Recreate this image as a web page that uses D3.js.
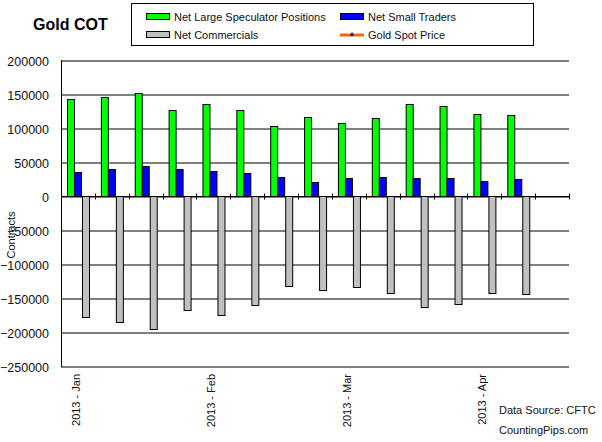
<!DOCTYPE html>
<html>
<head>
<meta charset="utf-8">
<script src="https://cdn.jsdelivr.net/npm/d3@7/dist/d3.min.js"></script>
<style>
  body { margin: 0; background: #fff; }
  svg { display: block; font-family: Arial, "Liberation Sans", sans-serif; }
  .axis text { fill: #111; font-size: 12.5px; }
</style>
</head>
<body>
<div id="chart"></div>
<script>
// weekly COT report dates (last slot empty)
var weeks = ["01-08", "01-15", "01-22", "01-29", "02-05", "02-12", "02-19",
             "02-26", "03-05", "03-12", "03-19", "03-26", "04-02", "04-09", "04-16"];
var weekLabels = ["2013 - Jan", "", "", "", "2013 - Feb", "", "", "",
                  "2013 - Mar", "", "", "", "2013 - Apr", "", ""];

var largeSpec  = [142000, 145000, 151000, 126000, 136000, 126000, 102500,
                  115500, 107000, 114000, 135000, 132000, 120000, 118500, null];
var smallTrade = [34800, 39700, 43600, 39700, 36300, 33300, 27900,
                  20100, 26000, 27500, 26000, 26000, 21600, 24500, null];
var commercials = [-178400, -185800, -196100, -168100, -175400, -160700, -132800,
                   -138700, -134300, -143100, -163700, -159300, -143100, -144600, null];

var yTicks = [200000, 150000, 100000, 50000, 0, -50000, -100000, -150000, -200000, -250000];

var seriesNames = ["Net Large Speculator Positions", "Net Small Traders", "Net Commercials"];
var seriesColors = ["#00ff00", "#0000ff", "#c0c0c0"];

var W = 602, H = 442;
var plot = {left: 61, right: 569, top: 60, bottom: 366};

var svg = d3.select("#chart").append("svg")
    .attr("width", W)
    .attr("height", H);

var x = d3.scaleBand()
    .domain(weeks)
    .range([plot.left, plot.right]);

var x1 = d3.scaleBand()
    .domain(seriesNames)
    .range([0, x.bandwidth()])
    .paddingOuter(0.8);

var y = d3.scaleLinear()
    .domain([-250000, 200000])
    .range([plot.bottom, plot.top]);

// gridlines + y labels
var axisY = d3.axisLeft(y)
    .tickValues(yTicks)
    .tickSize(-(plot.right - plot.left))
    .tickPadding(12)
    .tickFormat(d3.format("d"));

svg.append("g")
    .attr("class", "axis axis--y")
    .attr("transform", "translate(" + plot.left + ",0.5)")
    .call(axisY)
    .call(function(g) { g.select(".domain").remove(); })
    .call(function(g) { g.selectAll(".tick line").attr("stroke", "#000"); })
    .call(function(g) { g.selectAll(".tick text").attr("dy", "0.4em"); });

// left axis line
svg.append("line")
    .attr("x1", plot.left + 0.5).attr("x2", plot.left + 0.5)
    .attr("y1", plot.top).attr("y2", plot.bottom + 1)
    .attr("stroke", "#000");

// bars
var rows = weeks.map(function(w, i) {
    return {week: w, vals: [largeSpec[i], smallTrade[i], commercials[i]]};
});

var grp = svg.append("g").selectAll("g")
    .data(rows)
    .enter().append("g")
    .attr("transform", function(d) { return "translate(" + x(d.week) + ",0)"; });

grp.selectAll("rect")
    .data(function(d) {
        return d.vals.map(function(v, j) { return {name: seriesNames[j], v: v, c: seriesColors[j]}; })
                     .filter(function(o) { return o.v != null; });
    })
    .enter().append("rect")
    .attr("x", function(d) { return Math.round(x1(d.name)) + 0.5; })
    .attr("width", function(d) { return Math.round(x1.bandwidth()); })
    .attr("y", function(d) { return Math.round(d.v > 0 ? y(d.v) : y(0)) + 0.5; })
    .attr("height", function(d) { return Math.round(Math.abs(y(d.v) - y(0))); })
    .attr("fill", function(d) { return d.c; })
    .attr("stroke", "#000")
    .attr("stroke-width", 1);

// zero line with category ticks
var zeroY = Math.round(y(0)) + 0.5;
svg.append("line")
    .attr("x1", plot.left).attr("x2", plot.right)
    .attr("y1", zeroY).attr("y2", zeroY)
    .attr("stroke", "#000");

var edges = weeks.map(function(w) { return x(w); }).concat([plot.right]);
svg.append("g").selectAll("line")
    .data(edges.slice(1))
    .enter().append("line")
    .attr("x1", function(d) { return Math.round(d) + 0.5; })
    .attr("x2", function(d) { return Math.round(d) + 0.5; })
    .attr("y1", zeroY - 3).attr("y2", zeroY + 3)
    .attr("stroke", "#000");

// x labels (rotated)
svg.append("g").selectAll("text")
    .data(weeks.filter(function(w, i) { return weekLabels[i] !== ""; }))
    .enter().append("text")
    .attr("transform", function(d) {
        return "translate(" + (x(d) + x.bandwidth() / 2 - 2) + ",374) rotate(-90)";
    })
    .attr("dy", "0.35em")
    .attr("text-anchor", "end")
    .style("font-size", "11px")
    .attr("fill", "#111")
    .text(function(d) { return weekLabels[weeks.indexOf(d)]; });

// y title
svg.append("text")
    .attr("transform", "translate(15,235) rotate(-90)")
    .attr("text-anchor", "middle")
    .style("font-size", "11px")
    .attr("fill", "#111")
    .text("Contracts");

// title
svg.append("text")
    .attr("x", 33).attr("y", 30)
    .style("font-size", "16px")
    .style("font-weight", "bold")
    .text("Gold COT");

// legend
var legend = svg.append("g");
legend.append("rect")
    .attr("x", 131.5).attr("y", 3.5)
    .attr("width", 402).attr("height", 42)
    .attr("fill", "#fff")
    .attr("stroke", "#000");

var legendItems = [
    {name: seriesNames[0], c: seriesColors[0], lx: 146, ly: 13},
    {name: seriesNames[1], c: seriesColors[1], lx: 340, ly: 13},
    {name: seriesNames[2], c: seriesColors[2], lx: 146, ly: 31}
];
legendItems.forEach(function(d) {
    legend.append("rect")
        .attr("x", d.lx + 0.5).attr("y", d.ly + 0.5)
        .attr("width", 23).attr("height", 6)
        .attr("fill", d.c).attr("stroke", "#000");
    legend.append("text")
        .attr("x", d.lx + 28).attr("y", d.ly + 8)
        .style("font-size", "11px")
        .attr("fill", "#111")
        .text(d.name);
});
legend.append("line")
    .attr("x1", 340).attr("x2", 364)
    .attr("y1", 35).attr("y2", 35)
    .attr("stroke", "#ff6600").attr("stroke-width", 3);
legend.append("path")
    .attr("d", d3.symbol().type(d3.symbolTriangle).size(8)())
    .attr("transform", "translate(352,34.5)")
    .attr("fill", "#000080");
legend.append("text")
    .attr("x", 368).attr("y", 39)
    .style("font-size", "11px")
    .attr("fill", "#111")
    .text("Gold Spot Price");

// source notes
svg.append("text")
    .attr("x", 499).attr("y", 414)
    .style("font-size", "11px")
    .attr("fill", "#111")
    .text("Data Source: CFTC");
svg.append("text")
    .attr("x", 499).attr("y", 434)
    .style("font-size", "11px")
    .attr("fill", "#111")
    .text("CountingPips.com");
</script>
</body>
</html>
